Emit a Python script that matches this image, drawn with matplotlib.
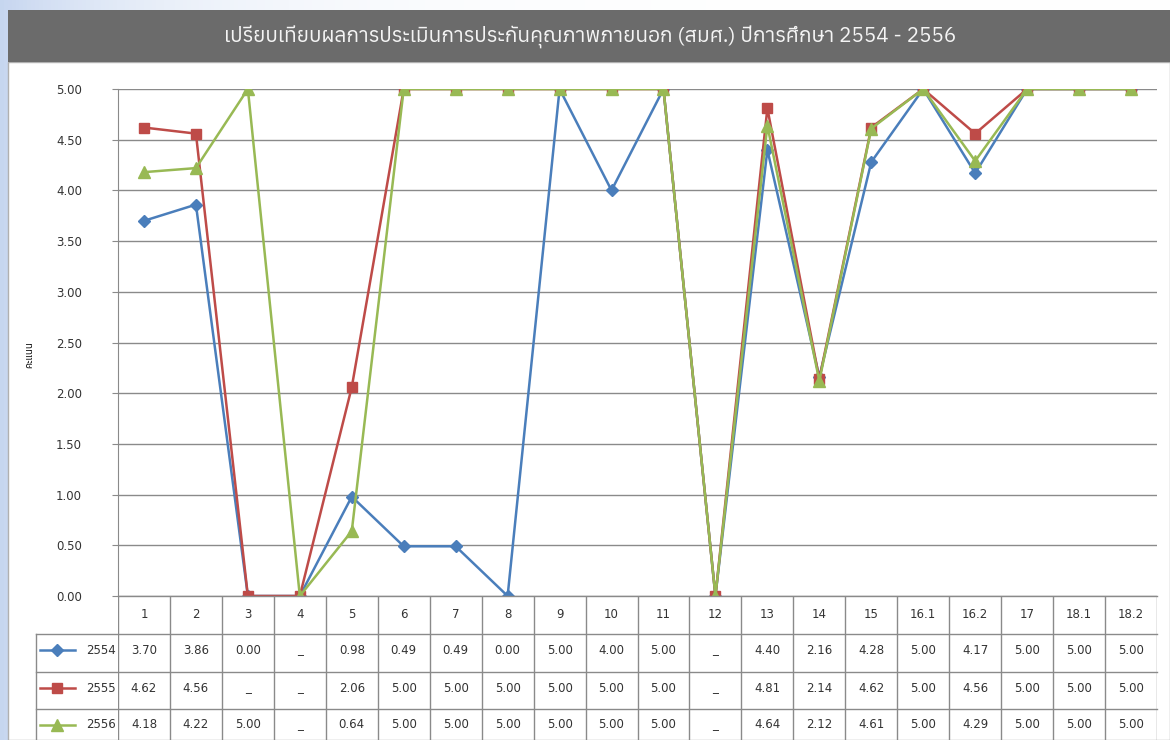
import numpy as np
import matplotlib
matplotlib.use("Agg")
import matplotlib.pyplot as plt

# data, None = "-" in the table (Excel draws it at 0)
categories = ["1", "2", "3", "4", "5", "6", "7", "8", "9", "10", "11", "12",
              "13", "14", "15", "16.1", "16.2", "17", "18.1", "18.2"]
years = ["2554", "2555", "2556"]
score_2554 = [3.70, 3.86, 0.00, None, 0.98, 0.49, 0.49, 0.00, 5.00, 4.00, 5.00, None,
              4.40, 2.16, 4.28, 5.00, 4.17, 5.00, 5.00, 5.00]
score_2555 = [4.62, 4.56, None, None, 2.06, 5.00, 5.00, 5.00, 5.00, 5.00, 5.00, None,
              4.81, 2.14, 4.62, 5.00, 4.56, 5.00, 5.00, 5.00]
score_2556 = [4.18, 4.22, 5.00, None, 0.64, 5.00, 5.00, 5.00, 5.00, 5.00, 5.00, None,
              4.64, 2.12, 4.61, 5.00, 4.29, 5.00, 5.00, 5.00]
yticks = [0, 0.5, 1.0, 1.5, 2.0, 2.5, 3.0, 3.5, 4.0, 4.5, 5.0]

title = "เปรียบเทียบผลการประเมินการประกันคุณภาพภายนอก (สมศ.) ปีการศึกษา 2554 - 2556"
ylabel = "คะแนน"

series = [score_2554, score_2555, score_2556]
colors = ["#4a7ebb", "#be4b48", "#98b954"]
markers = ["D", "s", "^"]
msizes = [6, 7.5, 8]
thai_font = ["Anuphan", "DejaVu Sans"]
grid_c = "#8a8a8a"
txt_c = "#333333"
num_size = 8.5

W, H = 1170, 740
fig = plt.figure(figsize=(W / 100, H / 100), dpi=100)

# page background (light blue fading to white) + white chart box
bg = fig.add_axes([0, 0, 1, 1])
xs = np.linspace(0, 1, 300)
tint = np.exp(-xs / 0.15)
img = np.ones((10, 300, 3))
for k, c in enumerate([0.78, 0.84, 0.94]):
    img[:, :, k] = 1 - (1 - c) * tint
bg.imshow(img, extent=[0, W, 0, H], aspect="auto")
bg.add_patch(plt.Rectangle((8, 0), W - 8, H - 62, facecolor="white",
                           edgecolor="#b0b0b0", lw=1))
bg.add_patch(plt.Rectangle((8, H - 62), W - 8, 52, facecolor="#6b6b6b", edgecolor="none"))
bg.text(590, H - 37, title, color="#f4f4f4", fontsize=15, ha="center", va="center",
        family=thai_font)
bg.text(30, H - 355, ylabel, rotation=90, fontsize=7, ha="center", va="center",
        family=thai_font)
bg.set_xlim(0, W)
bg.set_ylim(0, H)
bg.axis("off")

# plot area
left, right, top, bottom = 118, 1157, 89, 596
ax = fig.add_axes([left / W, (H - bottom) / H, (right - left) / W, (bottom - top) / H])
x = np.arange(len(categories))
for vals, c, m, ms in zip(series, colors, markers, msizes):
    yv = [0 if v is None else v for v in vals]
    ax.plot(x, yv, color=c, lw=1.8, marker=m, ms=ms, mfc=c, mec=c, zorder=3)
ax.set_xlim(-0.5, len(categories) - 0.5)
ax.set_ylim(0, 5)
ax.set_yticks(yticks)
ax.set_yticklabels(["%.2f" % t for t in yticks], fontsize=num_size, color=txt_c)
ax.set_xticks([])
ax.yaxis.grid(True, color=grid_c, lw=1)
ax.set_axisbelow(True)
ax.tick_params(axis="y", length=4, color=grid_c, pad=22)
for s in ["top", "right", "bottom"]:
    ax.spines[s].set_visible(False)
ax.spines["left"].set_color(grid_c)

# data table under the plot
tb_h = H - bottom
tax = fig.add_axes([left / W, 0, (right - left) / W, tb_h / H])
tax.set_xlim(-0.5, len(categories) - 0.5)
tax.set_ylim(tb_h, 0)
tax.axis("off")
row_lines = [0, 38, 76, 113]
leg_x0 = -0.5 - (left - 36) / 51.95
for i in range(len(categories) + 1):
    tax.plot([i - 0.5, i - 0.5], [0, tb_h], color=grid_c, lw=1)
for j, yl in enumerate(row_lines):
    x0 = -0.5 if j == 0 else leg_x0
    tax.plot([x0, len(categories) - 0.5], [yl, yl], color=grid_c, lw=1, clip_on=False)
tax.plot([leg_x0, leg_x0], [row_lines[1], tb_h], color=grid_c, lw=1, clip_on=False)

for i, cat in enumerate(categories):
    tax.text(i, 18, cat, ha="center", va="center", fontsize=num_size, color=txt_c)
for r, (yr, vals, c, m, ms) in enumerate(zip(years, series, colors, markers, msizes)):
    yc = row_lines[r + 1] + 16
    tax.plot([leg_x0 + 0.08, leg_x0 + 0.75], [yc, yc], color=c, lw=1.8, clip_on=False)
    tax.plot([leg_x0 + 0.41], [yc], marker=m, ms=ms, color=c, clip_on=False)
    tax.text(-0.55, yc, yr, ha="right", va="center", fontsize=num_size, color=txt_c)
    for i, v in enumerate(vals):
        lab = "_" if v is None else "%.2f" % v
        tax.text(i, yc, lab, ha="center", va="center", fontsize=num_size, color=txt_c)

fig.savefig("out.png", dpi=100)
